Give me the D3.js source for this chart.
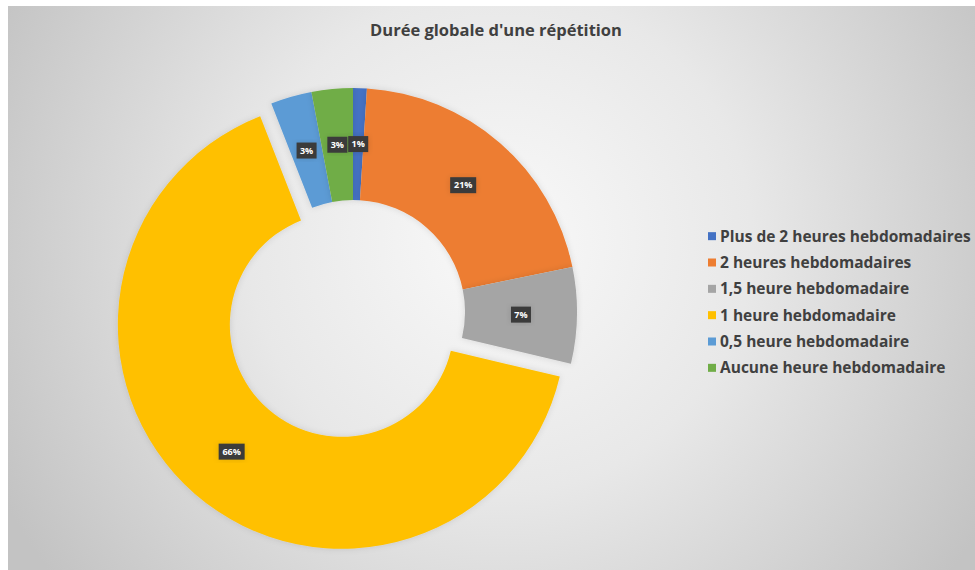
<!DOCTYPE html>
<html>
<head>
<meta charset="utf-8">
<script src="https://cdn.jsdelivr.net/npm/d3@7"></script>
<style>
  body { margin: 0; background: white; }
  svg { display: block; }
</style>
</head>
<body>
<div id="vis"></div>
<script>
// data
const categories = [
  "Plus de 2 heures hebdomadaires",
  "2 heures hebdomadaires",
  "1,5 heure hebdomadaire",
  "1 heure hebdomadaire",
  "0,5 heure hebdomadaire",
  "Aucune heure hebdomadaire"
];
const values = [1, 21, 7, 66, 3, 3];
const labels = ["1%", "21%", "7%", "66%", "3%", "3%"];
const colors = ["#4472C4", "#ED7D31", "#A5A5A5", "#FFC000", "#5B9BD5", "#70AD47"];
const exploded = [0, 0, 0, 1, 0, 0];

const data = categories.map((c, i) => ({
  name: c, value: values[i], label: labels[i], color: colors[i], explode: exploded[i]
}));

let width = 975;
let height = 570;

let svg = d3.select("#vis")
  .append("svg")
  .attr("width", width)
  .attr("height", height);

// background gradient
let defs = svg.append("defs");
let grad = defs.append("radialGradient")
  .attr("id", "bg")
  .attr("gradientUnits", "userSpaceOnUse")
  .attr("cx", 500).attr("cy", 240).attr("r", 560);
grad.append("stop").attr("offset", "0%").attr("stop-color", "#f9f9f9");
grad.append("stop").attr("offset", "45%").attr("stop-color", "#e8e8e8");
grad.append("stop").attr("offset", "100%").attr("stop-color", "#c3c3c3");

let shadow = defs.append("filter").attr("id", "shadow")
  .attr("x", "-20%").attr("y", "-20%").attr("width", "140%").attr("height", "140%");
shadow.append("feDropShadow")
  .attr("dx", 0).attr("dy", 0).attr("stdDeviation", 3)
  .attr("flood-color", "#000").attr("flood-opacity", 0.12);

svg.append("rect")
  .attr("x", 8).attr("y", 6)
  .attr("width", width - 8).attr("height", height - 6)
  .attr("fill", "url(#bg)");

// title
svg.append("text")
  .attr("x", 496)
  .attr("y", 36)
  .attr("text-anchor", "middle")
  .style("font-family", "'Open Sans', sans-serif")
  .style("font-weight", 700)
  .style("font-size", "16.5px")
  .style("fill", "#404040")
  .text("Durée globale d'une répétition");

// donut
let cx = 353, cy = 312, outerR = 224, innerR = 112, offset = 17;

let pie = d3.pie().value(d => d.value).sort(null);
let arc = d3.arc().innerRadius(innerR).outerRadius(outerR);
let labelArc = d3.arc().innerRadius((innerR + outerR) / 2).outerRadius((innerR + outerR) / 2);

let arcs = pie(data);

let g = svg.append("g").attr("transform", `translate(${cx}, ${cy})`);

function shift(d) {
  let a = (d.startAngle + d.endAngle) / 2;
  let o = d.data.explode ? offset : 0;
  return [Math.sin(a) * o, -Math.cos(a) * o];
}

g.selectAll("path")
  .data(arcs)
  .enter()
  .append("path")
  .attr("d", arc)
  .attr("transform", d => `translate(${shift(d)})`)
  .attr("fill", d => d.data.color)
  .attr("filter", "url(#shadow)");

// data labels
let lab = g.selectAll("g.lab")
  .data(arcs)
  .enter()
  .append("g")
  .attr("class", "lab")
  .attr("transform", d => {
    let c = labelArc.centroid(d);
    let s = shift(d);
    return `translate(${c[0] + s[0]}, ${c[1] + s[1]})`;
  });

lab.append("rect")
  .attr("x", d => d.data.label.length > 2 ? -13 : -10)
  .attr("y", -8)
  .attr("width", d => d.data.label.length > 2 ? 26 : 20)
  .attr("height", 16)
  .attr("fill", "#3a3a3a")
  .attr("filter", "url(#shadow)");

lab.append("text")
  .attr("text-anchor", "middle")
  .attr("dy", "0.35em")
  .style("font-family", "'Open Sans', sans-serif")
  .style("font-weight", 700)
  .style("font-size", "9px")
  .style("fill", "white")
  .text(d => d.data.label);

// legend
let legendY = d3.scaleBand()
  .domain(categories)
  .range([223, 381]);

let leg = svg.append("g")
  .selectAll("g")
  .data(data)
  .enter()
  .append("g")
  .attr("transform", d => `translate(708, ${legendY(d.name) + legendY.bandwidth() / 2})`);

leg.append("rect")
  .attr("x", 0).attr("y", -4)
  .attr("width", 8).attr("height", 8)
  .attr("fill", d => d.color);

leg.append("text")
  .attr("x", 12)
  .attr("dy", "0.35em")
  .style("font-family", "'Open Sans', sans-serif")
  .style("font-weight", 700)
  .style("font-size", "15.5px")
  .style("fill", "#404040")
  .text(d => d.name);
</script>
</body>
</html>
